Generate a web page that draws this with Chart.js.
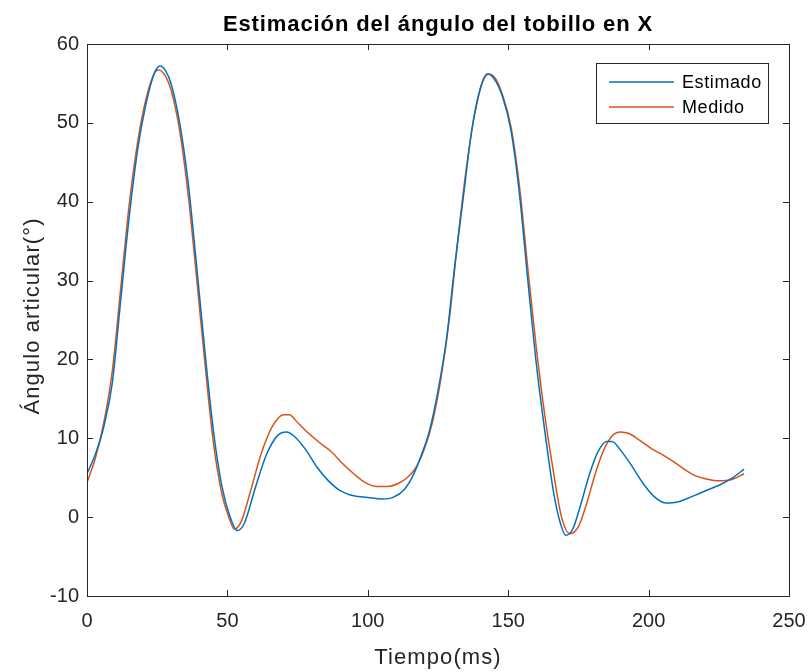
<!DOCTYPE html>
<html>
<head>
<meta charset="utf-8">
<script src="https://cdn.jsdelivr.net/npm/chart.js@4.4.1/dist/chart.umd.min.js"></script>
<style>
  html, body { margin: 0; padding: 0; background: #ffffff; }
  #wrap { width: 810px; height: 672px; }
</style>
</head>
<body>
<div id="wrap"><canvas id="c" width="810" height="672"></canvas></div>
<script>
// Ankle angle in X: estimated vs measured (time in ms, angle in degrees)
const chartTitle = 'Estimación del ángulo del tobillo en X';
const xTitle = 'Tiempo(ms)';
const yTitle = 'Ángulo articular(°)';
const seriesNames = ['Estimado', 'Medido'];

const xTicks = [0, 50, 100, 150, 200, 250];
const yTicks = [-10, 0, 10, 20, 30, 40, 50, 60];

const timeEstimado = [0, 3, 6, 9, 12, 15, 18, 21, 24, 26, 28, 30, 33, 36, 39, 42, 45, 48, 51, 53.5,
  56, 60, 64, 68, 71, 74, 78, 82, 86, 90, 95, 100, 105, 109, 113, 116, 119, 122, 125, 128,
  131, 134, 137, 140, 142.5, 145, 148, 151, 154, 157, 160, 163, 166, 168, 170.5, 173, 176, 179, 182, 185,
  187, 190, 194, 198, 202, 206, 210, 214, 218, 222, 226, 230, 234];
const valEstimado = [5.5, 8, 11.5, 17, 27.5, 38, 46.5, 52.4, 56.3, 57.2, 56.6, 54.9, 50, 42.5, 32, 21, 11, 4, 0, -1.7,
  -0.8, 3.8, 8, 10.4, 10.8, 10.2, 8.5, 6.3, 4.6, 3.4, 2.7, 2.5, 2.3, 2.5, 3.5, 5.2, 7.8, 11, 16, 22.5,
  32, 40.5, 49, 54.3, 56.2, 55.6, 53.3, 49, 41, 30, 19.5, 11, 3.5, 0, -2.3, -1.5, 1.8, 5.5, 8.3, 9.6,
  9.6, 8.5, 6.5, 4.3, 2.6, 1.8, 1.9, 2.4, 3, 3.6, 4.2, 5, 6.1];

const timeMedido = [0, 3, 6, 9, 12, 15, 18, 21, 24, 25.5, 28, 30, 33, 36, 39, 42, 45, 48, 50.5, 52.5,
  55, 58, 62, 66, 70, 72, 75, 79, 83, 87, 91, 95, 99, 103, 107, 111, 114, 117, 120, 123,
  126, 129, 132, 135, 138, 141, 143, 145.5, 148, 151, 154, 157, 160, 163, 166, 169, 172, 175, 178, 181,
  184, 187, 190, 193, 197, 201, 205, 209, 213, 217, 221, 225, 229, 234];
const valMedido = [4.4, 7.5, 12, 18.5, 29, 39.5, 47.5, 53, 56.3, 56.7, 55.9, 54.1, 49, 41, 30.5, 19.5, 9.5, 3, 0, -1.5,
  -0.5, 3, 8, 11.5, 13, 13, 12, 10.6, 9.4, 8.3, 6.8, 5.5, 4.4, 3.9, 3.9, 4.3, 5, 6.2, 8.5, 12,
  17.5, 25, 35, 44, 51, 55.3, 56.2, 55.6, 53.5, 49.5, 42, 31.5, 21.5, 13, 6, 0, -2.1, -1.2, 1.8, 5.5,
  8.5, 10.3, 10.8, 10.6, 9.7, 8.7, 7.9, 7, 6, 5.2, 4.8, 4.6, 4.7, 5.5];

const colors = ['#0072BD', '#D95319'];
const ink = '#262626';
const fontFamily = '"Liberation Sans", Arial, Helvetica, sans-serif';

function toPoints(ts, vs) { return ts.map((t, i) => ({ x: t, y: vs[i] })); }

// Axes box with inward ticks on all four sides, titles and legend
const framePlugin = {
  id: 'frame',
  afterDraw(chart) {
    const { ctx, chartArea: a, scales } = chart;
    ctx.save();
    ctx.strokeStyle = ink;
    ctx.lineWidth = 1;
    ctx.strokeRect(Math.round(a.left) + 0.5, Math.round(a.top) + 0.5,
      Math.round(a.right - a.left), Math.round(a.bottom - a.top));
    const tl = 6;
    ctx.beginPath();
    xTicks.forEach(v => {
      const px = Math.round(scales.x.getPixelForValue(v)) + 0.5;
      ctx.moveTo(px, a.bottom); ctx.lineTo(px, a.bottom - tl);
      ctx.moveTo(px, a.top); ctx.lineTo(px, a.top + tl);
    });
    yTicks.forEach(v => {
      const py = Math.round(scales.y.getPixelForValue(v)) + 0.5;
      ctx.moveTo(a.left, py); ctx.lineTo(a.left + tl, py);
      ctx.moveTo(a.right, py); ctx.lineTo(a.right - tl, py);
    });
    ctx.stroke();

    const cx = (a.left + a.right) / 2;

    // chart title
    ctx.fillStyle = '#000';
    ctx.font = 'bold 22px ' + fontFamily;
    ctx.letterSpacing = '0.9px';
    ctx.textAlign = 'center';
    ctx.textBaseline = 'alphabetic';
    ctx.fillText(chartTitle, cx, 31);

    // axis titles
    ctx.fillStyle = ink;
    ctx.font = '22px ' + fontFamily;
    ctx.letterSpacing = '1.1px';
    ctx.fillText(xTitle, cx, 664);
    ctx.save();
    ctx.translate(39, 316);
    ctx.rotate(-Math.PI / 2);
    ctx.fillText(yTitle, 0, 0);
    ctx.restore();

    // legend
    const lx = 596, ly = 63, lw = 172, lh = 60;
    ctx.fillStyle = '#fff';
    ctx.fillRect(lx, ly, lw, lh);
    ctx.strokeStyle = ink;
    ctx.lineWidth = 1;
    ctx.strokeRect(lx + 0.5, ly + 0.5, lw, lh);
    ctx.font = '18px ' + fontFamily;
    ctx.letterSpacing = '0.6px';
    ctx.textAlign = 'left';
    ctx.textBaseline = 'middle';
    chart.data.datasets.forEach((ds, i) => {
      const y = 82 + i * 25;
      ctx.strokeStyle = ds.borderColor;
      ctx.lineWidth = 1.5;
      ctx.beginPath();
      ctx.moveTo(609, y); ctx.lineTo(674, y);
      ctx.stroke();
      ctx.fillStyle = '#000';
      ctx.fillText(ds.label, 682, y + 1);
    });
    ctx.restore();
  }
};

new Chart(document.getElementById('c'), {
  type: 'line',
  data: {
    datasets: [
      { label: seriesNames[0], data: toPoints(timeEstimado, valEstimado), borderColor: colors[0] },
      { label: seriesNames[1], data: toPoints(timeMedido, valMedido), borderColor: colors[1] }
    ]
  },
  options: {
    responsive: false,
    animation: false,
    layout: { padding: { top: 44, right: 21, left: 0, bottom: 0 } },
    elements: {
      line: { borderWidth: 1.5, cubicInterpolationMode: 'monotone', fill: false },
      point: { radius: 0, hoverRadius: 0 }
    },
    plugins: { legend: { display: false }, title: { display: false }, tooltip: { enabled: false } },
    scales: {
      x: {
        type: 'linear', min: 0, max: 250,
        afterBuildTicks: s => { s.ticks = xTicks.map(v => ({ value: v })); },
        afterFit: s => { s.height = 76; s.paddingLeft = 0; s.paddingRight = 0; },
        grid: { display: false, drawTicks: false },
        border: { display: false },
        ticks: { color: ink, font: { family: fontFamily, size: 20 }, padding: 13, maxRotation: 0 }
      },
      y: {
        type: 'linear', min: -10, max: 60,
        afterBuildTicks: s => { s.ticks = yTicks.map(v => ({ value: v })); },
        afterFit: s => { s.width = 87; s.paddingTop = 0; s.paddingBottom = 0; },
        grid: { display: false, drawTicks: false },
        border: { display: false },
        ticks: { color: ink, font: { family: fontFamily, size: 20 }, padding: 8 }
      }
    }
  },
  plugins: [framePlugin]
});
</script>
</body>
</html>
